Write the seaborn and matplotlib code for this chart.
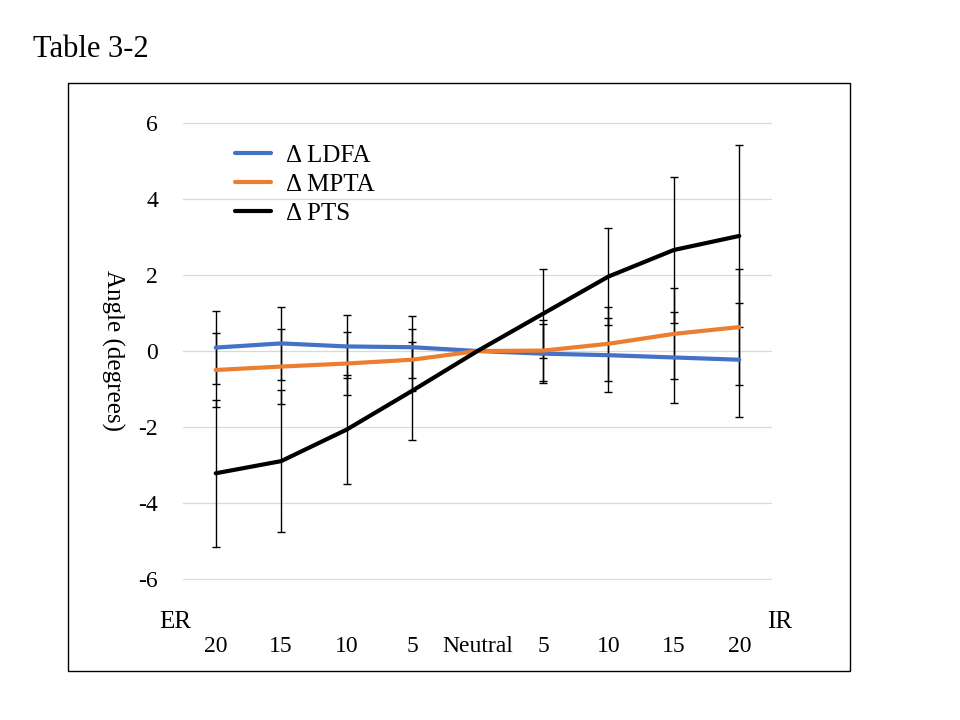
import matplotlib
matplotlib.use("Agg")
import matplotlib.pyplot as plt
import numpy as np
import pandas as pd
import seaborn as sns
from matplotlib.patches import Rectangle

# rotation angle categories (ER side -> Neutral -> IR side)
TICK_LABELS = ["20", "15", "10", "5", "Neutral", "5", "10", "15", "20"]

LDFA = [0.09, 0.20, 0.12, 0.10, 0.0, -0.07, -0.11, -0.17, -0.23]
LDFA_SD = [0.97, 0.97, 0.83, 0.81, 0.0, 0.78, 0.97, 1.20, 1.50]
MPTA = [-0.50, -0.41, -0.33, -0.23, 0.0, 0.01, 0.19, 0.45, 0.63]
MPTA_SD = [0.97, 0.98, 0.83, 0.82, 0.0, 0.80, 0.98, 1.20, 1.52]
PTS = [-3.22, -2.90, -2.07, -1.05, 0.0, 0.98, 1.96, 2.66, 3.03]
PTS_SD = [1.93, 1.87, 1.44, 1.30, 0.0, 1.17, 1.27, 1.92, 2.40]

SERIES = ["\u0394 LDFA", "\u0394 MPTA", "\u0394 PTS"]
COLORS = ["#4472C4", "#ED7D31", "#000000"]

sns.set_style("white")
plt.rcParams["font.family"] = ["Liberation Serif", "DejaVu Serif"]
plt.rcParams["axes.unicode_minus"] = False
plt.rcParams["text.color"] = "black"
plt.rcParams["xtick.color"] = "black"
plt.rcParams["ytick.color"] = "black"

pos = np.arange(len(TICK_LABELS))
values = [LDFA, MPTA, PTS]
sds = [LDFA_SD, MPTA_SD, PTS_SD]

df = pd.concat(
    [pd.DataFrame({"pos": pos, "value": v, "series": name}) for v, name in zip(values, SERIES)],
    ignore_index=True,
)

fig = plt.figure(figsize=(9.6, 7.2), dpi=100)
ax = fig.add_axes([183 / 960, 1 - 580 / 720, (772 - 183) / 960, (580 - 122) / 720])

for v, sd in zip(values, sds):
    idx = [i for i, s in enumerate(sd) if s > 0]
    ax.errorbar(
        pos[idx], np.array(v)[idx], yerr=np.array(sd)[idx],
        fmt="none", ecolor="black", elinewidth=1.0, capsize=3, capthick=1.0, zorder=2,
    )

sns.lineplot(
    data=df, x="pos", y="value", hue="series", palette=COLORS,
    linewidth=3.0, ax=ax, zorder=3, legend=True,
)

ax.set_xlim(-0.5, 8.5)
ax.set_ylim(-6.03, 6.03)
ax.set_yticks([-6, -4, -2, 0, 2, 4, 6])
ax.set_yticklabels(["-6", "-4", "-2", "0", "2", "4", "6"])
ax.set_xticks(pos)
ax.set_xticklabels(TICK_LABELS)
ax.tick_params(axis="x", length=0, pad=40, labelsize=17, labelcolor="black")
ax.tick_params(axis="y", length=0, pad=18, labelsize=17, labelcolor="black")
ax.grid(axis="y", color="#D9D9D9", linewidth=0.9)
ax.grid(axis="x", visible=False)
for sp in ax.spines.values():
    sp.set_visible(False)
ax.set_xlabel("")
ax.set_ylabel("")

leg = ax.legend(
    loc="upper left", bbox_to_anchor=(0.05, 1.0), frameon=False,
    fontsize=18, handlelength=1.45, handletextpad=0.6, labelspacing=0.25,
)
for line in leg.get_lines():
    line.set_linewidth(3.0)
for t in leg.get_texts():
    t.set_color("black")

fig.text(113 / 960, 1 - 350 / 720, "Angle (degrees)", rotation=-90,
         ha="center", va="center", fontsize=18)
fig.text(175 / 960, 1 - 622 / 720, "ER", ha="center", va="center", fontsize=18)
fig.text(780 / 960, 1 - 622 / 720, "IR", ha="center", va="center", fontsize=18)
fig.text(33 / 960, 1 - 57 / 720, "Table 3-2", ha="left", va="baseline", fontsize=22)

fig.patches.append(Rectangle(
    (68 / 960, 1 - 671 / 720), (850 - 68) / 960, (671 - 83) / 720,
    transform=fig.transFigure, fill=False, edgecolor="black", linewidth=1.0,
))

fig.savefig("out.png", dpi=100)
